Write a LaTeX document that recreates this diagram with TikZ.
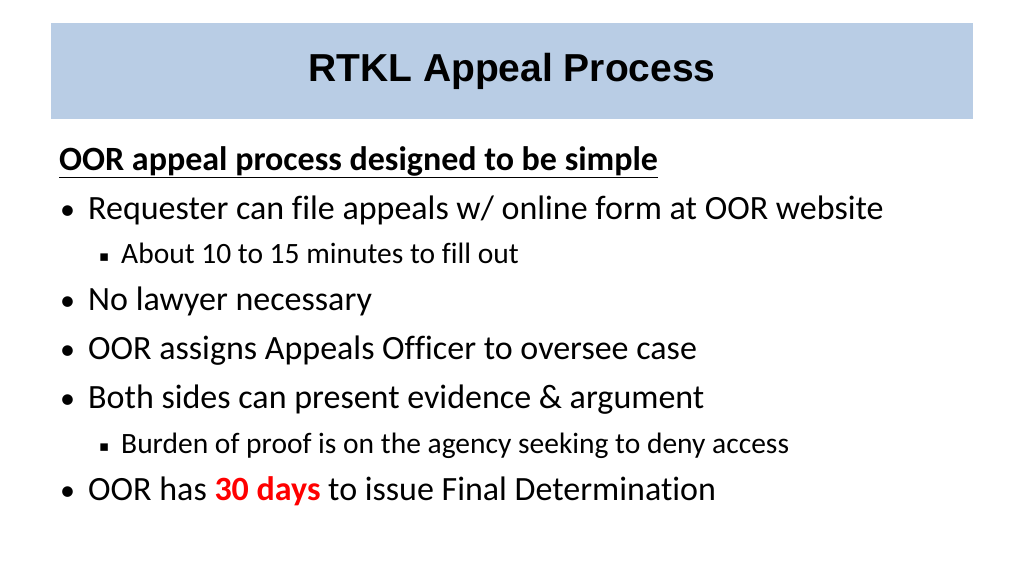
\documentclass[tikz,border=0pt]{standalone}
\usepackage{fontspec}
\setmainfont{Carlito}[Ligatures={NoCommon}]
\newfontfamily\titlefont{Liberation Sans}
\newfontfamily\symfont{DejaVu Sans}
\definecolor{barblue}{RGB}{185,205,229}
\definecolor{oorred}{RGB}{255,0,0}
\begin{document}
\begin{tikzpicture}[x=1pt,y=-1pt,
  lvlone/.style={anchor=base west,inner sep=0pt,font=\fontsize{34}{38}\selectfont},
  lvltwo/.style={anchor=base west,inner sep=0pt,font=\fontsize{29.5}{34}\selectfont},
  bul/.style={anchor=base west,inner sep=0pt,font=\fontsize{30}{34}\selectfont},
  sbul/.style={anchor=base west,inner sep=0pt,font=\symfont\fontsize{15}{18}\selectfont}]
\useasboundingbox (0,0) rectangle (1024,576);
\fill[white] (0,0) rectangle (1024,576);
\fill[barblue] (51,23) rectangle (973,119);
\node[inner sep=0pt,font=\titlefont\bfseries\fontsize{39}{44}\selectfont] (title) at (512,71) {RTKL Appeal Process};
\node[lvlone,font=\bfseries\fontsize{34}{38}\selectfont] (head) at (59,170) {\underline{OOR appeal process designed to be simple}};
\node[bul] (b1) at (60,219) {•};
\node[lvlone] (t1) at (88,219) {Requester can file appeals w/ online form at OOR website};
\node[sbul] (s1) at (99,261) {▪};
\node[lvltwo] (u1) at (121,263) {About 10 to 15 minutes to fill out};
\node[bul] (b2) at (60,310) {•};
\node[lvlone] (t2) at (88,310) {No lawyer necessary};
\node[bul] (b3) at (60,359) {•};
\node[lvlone] (t3) at (88,359) {OOR assigns Appeals Officer to oversee case};
\node[bul] (b4) at (60,408) {•};
\node[lvlone] (t4) at (88,408) {Both sides can present evidence \& argument};
\node[sbul] (s2) at (99,451) {▪};
\node[lvltwo] (u2) at (121,453) {Burden of proof is on the agency seeking to deny access};
\node[bul] (b5) at (60,500) {•};
\node[lvlone] (t5) at (88,500) {OOR has \textcolor{oorred}{\bfseries 30 days} to issue Final Determination};
\end{tikzpicture}
\end{document}
